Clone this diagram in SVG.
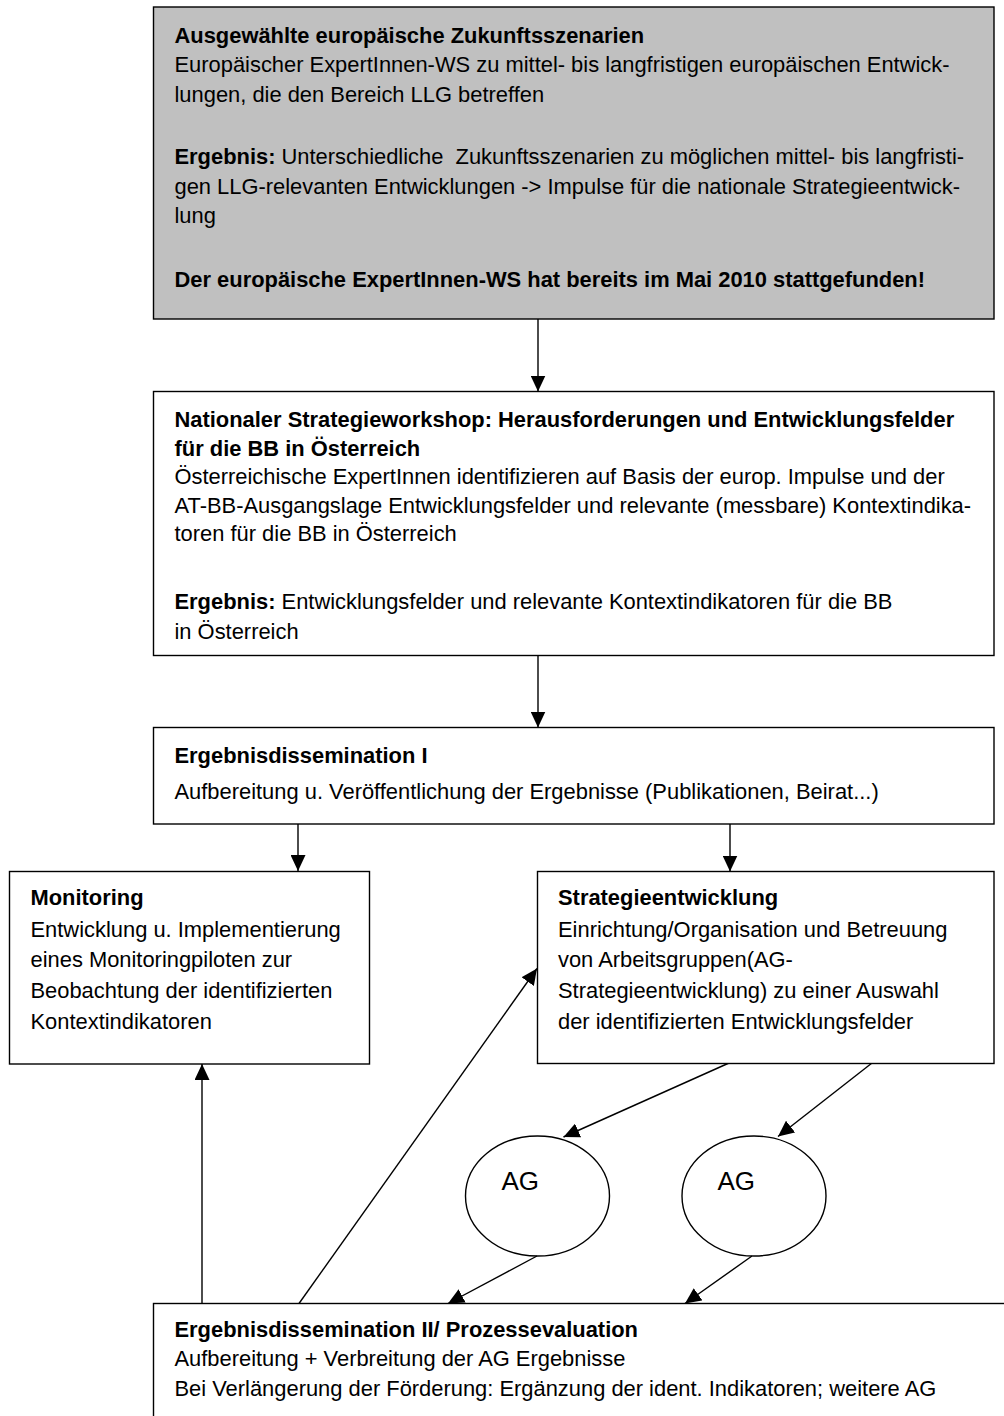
<svg xmlns="http://www.w3.org/2000/svg" width="1004" height="1416" viewBox="0 0 1004 1416">
<defs>
<marker id="ah" markerWidth="16" markerHeight="15" refX="16" refY="7.5" orient="auto" markerUnits="userSpaceOnUse">
<path d="M0,0 L16,7.5 L0,15 z" fill="#000"/>
</marker>
<style>
.box{fill:#fff;stroke:#000;stroke-width:1.4}
.grey{fill:#c0c0c0}
.t{font-family:"Liberation Sans",Arial,sans-serif;font-size:21.9px;fill:#000;white-space:pre}
.b{font-weight:bold}
.ag{font-family:"Liberation Sans",Arial,sans-serif;font-size:26px;fill:#000}
.c{fill:none;stroke:#000;stroke-width:1.4;marker-end:url(#ah)}
.l{fill:none;stroke:#000;stroke-width:1.4}
</style>
</defs>
<rect width="1004" height="1416" fill="#fff"/>

<g id="connectors">
<line class="c" x1="538" y1="319" x2="538" y2="391.5"/>
<line class="c" x1="538" y1="655.5" x2="538" y2="727.5"/>
<line class="c" x1="298" y1="824" x2="298" y2="871"/>
<line class="c" x1="730" y1="824" x2="730" y2="871.5"/>
<line class="c" x1="729" y1="1063" x2="563.5" y2="1137"/>
<line class="c" x1="872" y1="1063" x2="778" y2="1136.5"/>
<line class="c" x1="537" y1="1256" x2="448" y2="1303.5"/>
<line class="c" x1="752" y1="1256" x2="685" y2="1303.5"/>
<line class="c" x1="202" y1="1303.5" x2="202" y2="1064"/>
<line class="c" x1="299" y1="1303.5" x2="537" y2="968.5"/>
</g>

<g id="n1">
<rect class="box grey" x="153.5" y="7" width="840.5" height="312"/>
<text class="t b" x="174.5" y="42.5">Ausgewählte europäische Zukunftsszenarien</text>
<text class="t" x="174.5" y="72">Europäischer ExpertInnen-WS zu mittel- bis langfristigen europäischen Entwick-</text>
<text class="t" x="174.5" y="101.5">lungen, die den Bereich LLG betreffen</text>
<text class="t" x="174.5" y="164"><tspan class="b">Ergebnis:</tspan> Unterschiedliche  Zukunftsszenarien zu möglichen mittel- bis langfristi-</text>
<text class="t" x="174.5" y="193.5">gen LLG-relevanten Entwicklungen -&gt; Impulse für die nationale Strategieentwick-</text>
<text class="t" x="174.5" y="223">lung</text>
<text class="t b" x="174.5" y="287">Der europäische ExpertInnen-WS hat bereits im Mai 2010 stattgefunden!</text>
</g>

<g id="n2">
<rect class="box" x="153.5" y="391.5" width="840.5" height="264"/>
<text class="t b" x="174.5" y="427">Nationaler Strategieworkshop: Herausforderungen und Entwicklungsfelder</text>
<text class="t b" x="174.5" y="455.5">für die BB in Österreich</text>
<text class="t" x="174.5" y="484">Österreichische ExpertInnen identifizieren auf Basis der europ. Impulse und der</text>
<text class="t" x="174.5" y="512.5">AT-BB-Ausgangslage Entwicklungsfelder und relevante (messbare) Kontextindika-</text>
<text class="t" x="174.5" y="541">toren für die BB in Österreich</text>
<text class="t" x="174.5" y="609"><tspan class="b">Ergebnis:</tspan> Entwicklungsfelder und relevante Kontextindikatoren für die BB</text>
<text class="t" x="174.5" y="639">in Österreich</text>
</g>

<g id="n3">
<rect class="box" x="153.5" y="727.5" width="840.5" height="96.5"/>
<text class="t b" x="174.5" y="762.5">Ergebnisdissemination I</text>
<text class="t" x="174.5" y="798.5">Aufbereitung u. Veröffentlichung der Ergebnisse (Publikationen, Beirat...)</text>
</g>

<g id="n4">
<rect class="box" x="9.5" y="871.5" width="360" height="192.5"/>
<text class="t b" x="30.5" y="905">Monitoring</text>
<text class="t" x="30.5" y="936.5">Entwicklung u. Implementierung</text>
<text class="t" x="30.5" y="967">eines Monitoringpiloten zur</text>
<text class="t" x="30.5" y="998">Beobachtung der identifizierten</text>
<text class="t" x="30.5" y="1028.5">Kontextindikatoren</text>
</g>

<g id="n5">
<rect class="box" x="537.5" y="871.5" width="456.5" height="192"/>
<text class="t b" x="558" y="905">Strategieentwicklung</text>
<text class="t" x="558" y="936.5">Einrichtung/Organisation und Betreuung</text>
<text class="t" x="558" y="967">von Arbeitsgruppen(AG-</text>
<text class="t" x="558" y="998">Strategieentwicklung) zu einer Auswahl</text>
<text class="t" x="558" y="1028.5">der identifizierten Entwicklungsfelder</text>
</g>

<g id="n6">
<ellipse class="l" cx="537.5" cy="1196" rx="72" ry="60"/>
<text class="ag" x="501.5" y="1190">AG</text>
</g>

<g id="n7">
<ellipse class="l" cx="754" cy="1196" rx="72" ry="60"/>
<text class="ag" x="717.5" y="1190">AG</text>
</g>

<g id="n8">
<rect class="box" x="153.5" y="1303.5" width="900" height="200"/>
<text class="t b" x="174.5" y="1336.5">Ergebnisdissemination II/ Prozessevaluation</text>
<text class="t" x="174.5" y="1366">Aufbereitung + Verbreitung der AG Ergebnisse</text>
<text class="t" x="174.5" y="1396">Bei Verlängerung der Förderung: Ergänzung der ident. Indikatoren; weitere AG</text>
</g>
</svg>
